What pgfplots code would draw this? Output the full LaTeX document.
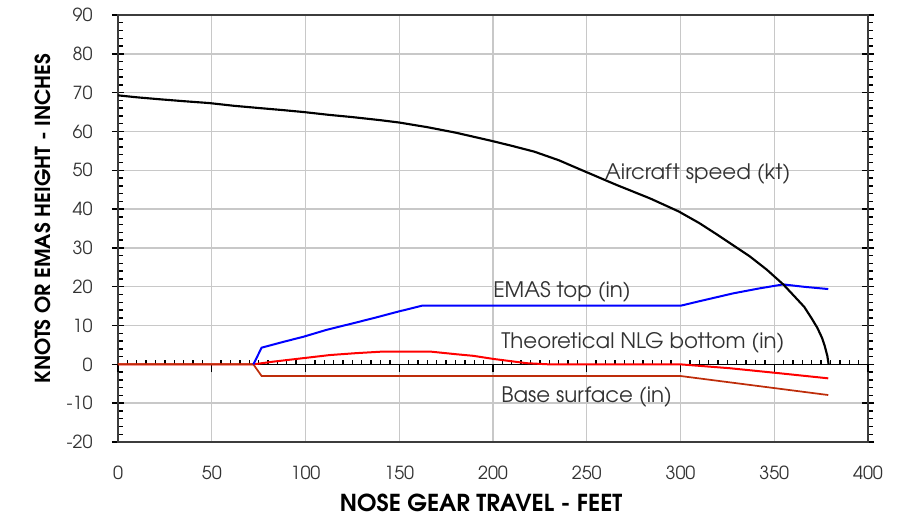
\documentclass[border=0pt]{standalone}
\usepackage{fontspec}
\setmainfont{TeX Gyre Adventor}
\usepackage{pgfplots}
\pgfplotsset{compat=1.18}
\usetikzlibrary{calc}
\definecolor{GridGray}{RGB}{200,200,200}
\definecolor{FrameGray}{RGB}{60,60,60}
\definecolor{TextGray}{RGB}{50,50,50}
\definecolor{BaseBrown}{RGB}{190,45,10}
\pgfplotsset{
  common/.style={
    scale only axis,
    width=562.5pt, height=320.25pt,
    xmin=0, xmax=400, ymin=-20, ymax=90,
  },
}
\begin{document}
\begin{tikzpicture}
% frame, grid, tick labels, axis titles
\begin{axis}[
  common,
  name=main,
  font=\fontsize{13.5}{16}\selectfont,
  /pgf/number format/assume math mode=true,
  axis line style={draw=FrameGray, line width=1.4pt},
  xtick={0,50,...,400},
  ytick={-20,-10,...,90},
  minor y tick num=4,
  grid=major,
  major grid style={draw=GridGray, line width=1.1pt},
  tick align=center,
  major tick length=9pt,
  minor tick length=3.6pt,
  every major x tick/.style={draw=none},
  every minor y tick/.style={xshift=1.8pt},
  tick style={draw=black, line width=1.1pt},
  xticklabel style={text=TextGray, yshift=-10pt},
  yticklabel style={text=TextGray, xshift=-11pt},
  xlabel={\bfseries NOSE GEAR TRAVEL - FEET},
  ylabel={\bfseries KNOTS OR EMAS HEIGHT - INCHES},
  xlabel style={font=\fontsize{17.5}{20}\selectfont, yshift=-4pt, xshift=-9pt},
  ylabel style={font=\fontsize{15.5}{18}\selectfont, at={(ticklabel cs:0.523)}, yshift=5pt},
]
\end{axis}
% zero line with its own ticks
\begin{axis}[
  common,
  axis x line=middle, axis y line=none,
  axis line style={-, draw=black, line width=1.1pt},
  xtick={0,50,...,400}, xticklabels={},
  minor x tick num=9,
  tick align=inside,
  major tick length=6pt, minor tick length=3pt,
  every major x tick/.style={yshift=-6pt},
  tick style={draw=black, line width=1pt},
]
\end{axis}
% data series
\begin{axis}[
  common,
  hide axis,
  clip=false,
]
\addplot[draw=red, line width=1.5pt] coordinates {
  (0,0) (72.2,0) (82.8,0.7) (98.8,1.6) (113,2.4) (127.3,2.9) (141.5,3.3)
  (166.4,3.3) (180.6,2.6) (189.5,2.2) (200.2,1.4) (218,0.3) (230,0)
  (300,0) (326.4,-1) (353,-2.3) (378.8,-3.6)
};
\addplot[draw=BaseBrown, line width=1.3pt] coordinates {
  (0,0) (72.2,0) (76.6,-3) (300,-3) (378.8,-7.9)
};
\addplot[draw=blue, line width=1.5pt] coordinates {
  (72.2,0) (76.6,4.3) (89,5.9) (98.8,7.1) (111.3,8.9) (125.5,10.6)
  (136.2,11.9) (149.5,13.6) (162,15.1) (300,15.1) (310.4,16.3)
  (328.2,18.3) (342.4,19.6) (354.8,20.6) (365.5,20.0) (378.8,19.4)
};
\addplot[draw=black, line width=1.6pt] coordinates {
  (0,69.3) (10,68.8) (22,68.3) (35,67.8) (49,67.3) (62,66.6) (76,66.0)
  (88,65.5) (99,65.0) (112,64.3) (125,63.7) (140,62.9) (150,62.3)
  (165,61.1) (180,59.7) (199,57.6) (210,56.3) (222,54.8) (235,52.6)
  (249,49.7) (265,46.4) (284,42.7) (299,39.4) (310,36.4) (319,33.6)
  (328,30.7) (337,27.8) (346,24.4) (355,20.5) (361,17.4) (366,14.8)
  (370,11.8) (373,9.4) (375.5,6.8) (377,4.6) (378.3,2.2) (379,0)
};
\begin{scope}[every node/.style={font=\fontsize{16}{19}\selectfont, text=TextGray, anchor=west, inner sep=0pt}]
\node at (axis cs:259.7,49.1) {Aircraft speed (kt)};
\node at (axis cs:200,18.7) {EMAS top (in)};
\node at (axis cs:204.3,5.5) {Theoretical NLG bottom (in)};
\node at (axis cs:204.3,-8.4) {Base surface (in)};
\end{scope}
\end{axis}
\pgfresetboundingbox
\path[use as bounding box] ($(main.south west)+(-88.5pt,-60pt)$) rectangle ($(main.north east)+(29.25pt,11.25pt)$);
\end{tikzpicture}
\end{document}
